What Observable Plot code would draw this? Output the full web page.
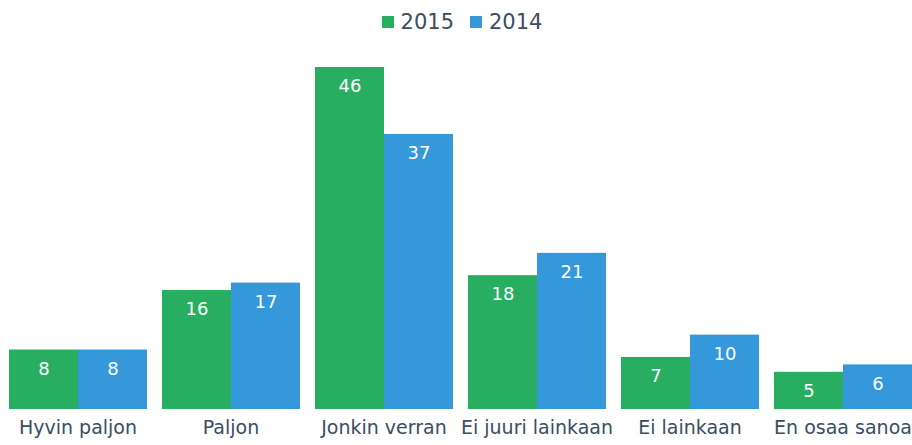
<!DOCTYPE html>
<html>
<head>
<meta charset="utf-8">
<script src="https://cdn.jsdelivr.net/npm/d3@7"></script>
<script src="https://cdn.jsdelivr.net/npm/@observablehq/plot@0.6"></script>
<style>
  body { margin: 0; background: #fff; font-family: "DejaVu Sans", Verdana, sans-serif; }
  #legend { height: 44px; display: flex; justify-content: center; align-items: center; gap: 16px; color: #3b4d61; font-size: 21px; padding-left: 12px; box-sizing: border-box; }
  #legend span.item { display: flex; align-items: center; gap: 7px; }
  #legend span.sw { width: 12px; height: 12px; display: inline-block; }
</style>
</head>
<body>
<div id="legend"></div>
<div id="chart"></div>
<script>
const categories = ["Hyvin paljon", "Paljon", "Jonkin verran", "Ei juuri lainkaan", "Ei lainkaan", "En osaa sanoa"];
const years = ["2015", "2014"];
const values2015 = [8, 16, 46, 18, 7, 5];
const values2014 = [8, 17, 37, 21, 10, 6];
const colors = ["#27ae60", "#3498db"];
const textColor = "#3b4d61";

const data = categories.flatMap((c, i) => [
  {cat: c, year: "2015", value: values2015[i]},
  {cat: c, year: "2014", value: values2014[i]}
]);

const legend = document.getElementById("legend");
years.forEach((y, i) => {
  const item = document.createElement("span");
  item.className = "item";
  const sw = document.createElement("span");
  sw.className = "sw";
  sw.style.background = colors[i];
  item.appendChild(sw);
  item.appendChild(document.createTextNode(y));
  legend.appendChild(item);
});

const chart = Plot.plot({
  width: 912,
  height: 401,
  marginLeft: 8,
  marginRight: 0,
  marginTop: 23,
  marginBottom: 36,
  style: {fontFamily: "DejaVu Sans, Verdana, sans-serif", background: "white"},
  fx: {domain: categories, paddingInner: 14 / 153, paddingOuter: 0, label: null},
  x: {domain: years, padding: 0, axis: null},
  y: {domain: [0, 46], axis: null},
  color: {domain: years, range: colors},
  marks: [
    Plot.barY(data, {fx: "cat", x: "year", y: "value", fill: "year"}),
    Plot.text(data, {fx: "cat", x: "year", y: "value", text: d => String(d.value), dy: 19, fill: "white", fontSize: 18}),
    Plot.axisFx({anchor: "bottom", tickSize: 0, tickPadding: 11, fontSize: 19, color: textColor, label: null})
  ]
});
document.getElementById("chart").appendChild(chart);
</script>
</body>
</html>
